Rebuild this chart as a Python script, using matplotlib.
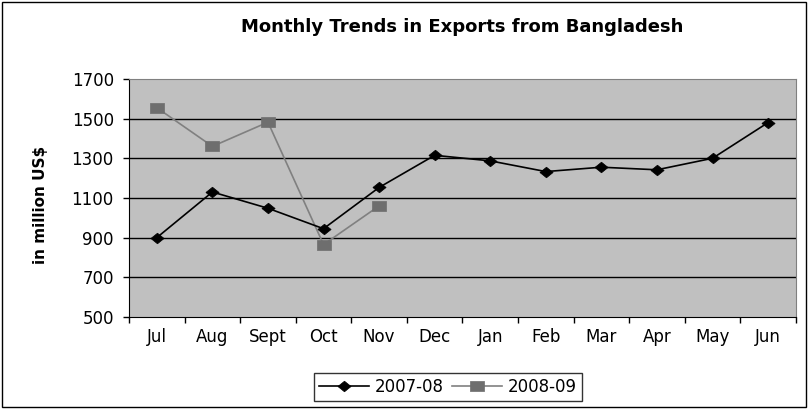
import matplotlib.pyplot as plt
from matplotlib.patches import Rectangle

plt.rcParams['font.family'] = ['DejaVu Sans']

# Monthly export figures (million US$)
months = ['Jul', 'Aug', 'Sept', 'Oct', 'Nov', 'Dec', 'Jan', 'Feb', 'Mar', 'Apr', 'May', 'Jun']
exports_2007_08 = [900, 1130, 1048, 945, 1153, 1315, 1287, 1233, 1255, 1242, 1300, 1480]
exports_2008_09 = [1555, 1360, 1482, 865, 1060]
y_ticks = [500, 700, 900, 1100, 1300, 1500, 1700]

# slightly wide diamond / square markers
diamond = [(-1.25, 0), (0, 1), (1.25, 0), (0, -1), (-1.25, 0)]
square = [(-1.3, -1), (1.3, -1), (1.3, 1), (-1.3, 1), (-1.3, -1)]

fig = plt.figure(figsize=(8.08, 4.09), dpi=100)
ax = fig.add_axes([0.1597, 0.225, 0.8253, 0.582])
ax.set_facecolor('#C0C0C0')

x1 = list(range(len(exports_2007_08)))
x2 = list(range(len(exports_2008_09)))
ax.plot(x1, exports_2007_08, color='black', lw=1.2, marker=diamond, ms=9.5,
        mfc='black', mec='black', mew=0.5, label='2007-08', zorder=4)
ax.plot(x2, exports_2008_09, color='#808080', lw=1.2, marker=square, ms=9.5,
        mfc='#6E6E6E', mec='#6E6E6E', mew=0.5, label='2008-09', zorder=3)

ax.set_xlim(-0.5, len(months) - 0.5)
ax.set_ylim(500, 1700)
ax.set_yticks(y_ticks)
ax.tick_params(axis='y', labelsize=12, length=4.5, width=1, direction='out', pad=6.5)
ax.set_xticks([i - 0.5 for i in range(len(months) + 1)])
ax.set_xticklabels([])
ax.set_xticks(range(len(months)), minor=True)
ax.set_xticklabels(months, minor=True)
ax.tick_params(axis='x', which='major', length=4, width=1, direction='out')
ax.tick_params(axis='x', which='minor', length=0, labelsize=12, pad=8)

for v in y_ticks[1:-1]:
    ax.axhline(v, color='black', lw=1, zorder=1)

for side in ['top', 'right']:
    ax.spines[side].set_color('#808080')
for side in ['left', 'bottom']:
    ax.spines[side].set_color('black')

ax.set_ylabel('in million US$', fontsize=11, fontweight='bold')
ax.yaxis.set_label_coords(-0.122, 0.47)
fig.text(0.5725, 0.934, 'Monthly Trends in Exports from Bangladesh',
         ha='center', va='center', fontsize=13, fontweight='bold')

leg = fig.legend(loc='center', bbox_to_anchor=(0.554, 0.054), ncol=2,
                 fontsize=12, frameon=True, fancybox=False, handlelength=3.0,
                 columnspacing=0.5, handletextpad=0.35, borderpad=0.3,
                 borderaxespad=0)
leg.get_frame().set_edgecolor('black')
leg.get_frame().set_linewidth(1)

# outer chart border
fig.patches.append(Rectangle((0.003, 0.004), 0.994, 0.992, transform=fig.transFigure,
                             fill=False, edgecolor='black', lw=1))

fig.savefig('out.png', dpi=100)
